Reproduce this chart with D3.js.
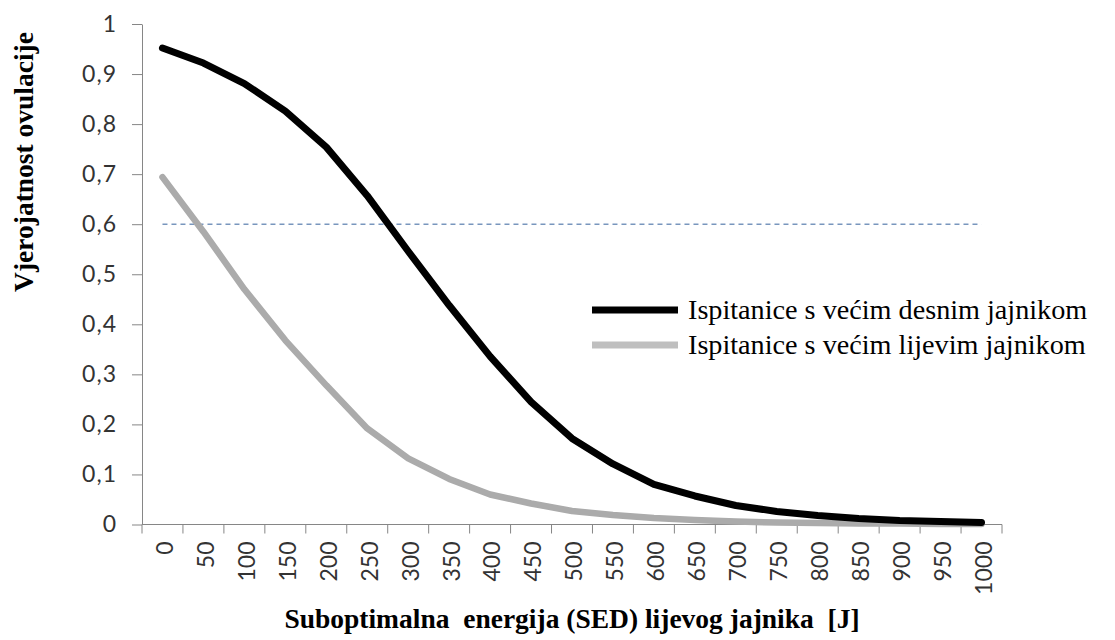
<!DOCTYPE html>
<html>
<head>
<meta charset="utf-8">
<script src="https://cdn.jsdelivr.net/npm/d3@7"></script>
<style>
  body { margin: 0; background: #fff; }
  svg text { white-space: pre; }
</style>
</head>
<body>
<div id="chart"></div>
<script>
// categories on the x axis (SED, J)
const categories = ["0", "50", "100", "150", "200", "250", "300", "350", "400", "450", "500",
    "550", "600", "650", "700", "750", "800", "850", "900", "950", "1000"];

// right ovary larger
const rightValues = [0.952, 0.922, 0.881, 0.826, 0.754, 0.657, 0.546, 0.438, 0.336, 0.245, 0.172,
    0.121, 0.080, 0.057, 0.038, 0.026, 0.018, 0.012, 0.008, 0.006, 0.004];

// left ovary larger
const leftValues = [0.694, 0.585, 0.470, 0.368, 0.278, 0.192, 0.132, 0.091, 0.060, 0.042, 0.027,
    0.019, 0.013, 0.009, 0.006, 0.004, 0.003, 0.002, 0.002, 0.001, 0.001];

// threshold line
const thresholdValue = 0.6;

const yTicks = [0, 0.1, 0.2, 0.3, 0.4, 0.5, 0.6, 0.7, 0.8, 0.9, 1];
const yTickLabels = ["0", "0,1", "0,2", "0,3", "0,4", "0,5", "0,6", "0,7", "0,8", "0,9", "1"];

const seriesNames = ["Ispitanice s većim desnim jajnikom", "Ispitanice s većim lijevim jajnikom"];

const width = 1115, height = 640;
const plotLeft = 142, plotRight = 1002, plotTop = 24, plotBottom = 524.5;

const svg = d3.select("#chart").append("svg")
    .attr("width", width)
    .attr("height", height);

const x = d3.scaleBand().domain(categories).range([plotLeft, plotRight]).padding(0);
const y = d3.scaleLinear().domain([0, 1]).range([plotBottom, plotTop]);
const cx = c => x(c) + x.bandwidth() / 2;

const axisColor = "#868686";
const labelFont = "Lato, 'Open Sans', sans-serif";
const serif = "'Liberation Serif', 'Times New Roman', serif";

// -----------------------------
// Y AXIS
// -----------------------------
const yAxis = svg.append("g")
    .attr("transform", `translate(${plotLeft},0)`)
    .call(d3.axisLeft(y)
        .tickValues(yTicks)
        .tickFormat((d, i) => yTickLabels[i])
        .tickSize(10)
        .tickSizeOuter(0)
        .tickPadding(15));
yAxis.select(".domain").attr("stroke", axisColor);
yAxis.selectAll(".tick line").attr("stroke", axisColor);
yAxis.selectAll(".tick text")
    .attr("fill", "#333")
    .style("font-family", labelFont)
    .style("font-size", "23px")
    .style("letter-spacing", "1px");

// -----------------------------
// X AXIS (ticks between categories)
// -----------------------------
const xAxis = svg.append("g");
xAxis.append("line")
    .attr("x1", plotLeft).attr("x2", plotRight)
    .attr("y1", plotBottom).attr("y2", plotBottom)
    .attr("stroke", axisColor);

const boundaries = categories.map(c => x(c)).concat([x.range()[1]]);
xAxis.selectAll("line.tick")
    .data(boundaries)
    .enter().append("line")
    .attr("class", "tick")
    .attr("x1", d => d).attr("x2", d => d)
    .attr("y1", plotBottom).attr("y2", plotBottom + 9)
    .attr("stroke", axisColor);

xAxis.selectAll("text.cat")
    .data(categories)
    .enter().append("text")
    .attr("class", "cat")
    .attr("transform", d => `translate(${cx(d)},${plotBottom + 17}) rotate(-90)`)
    .attr("text-anchor", "end")
    .attr("dy", "0.45em")
    .attr("fill", "#333")
    .style("font-family", labelFont)
    .style("font-size", "23px")
    .text(d => d);

// -----------------------------
// AXIS TITLES
// -----------------------------
svg.append("text")
    .attr("transform", `translate(33,162) rotate(-90)`)
    .attr("text-anchor", "middle")
    .style("font-family", serif)
    .style("font-weight", "bold")
    .style("font-size", "27.5px")
    .text("Vjerojatnost ovulacije");

svg.append("text")
    .attr("x", 572)
    .attr("y", 628)
    .attr("text-anchor", "middle")
    .style("font-family", serif)
    .style("font-weight", "bold")
    .style("font-size", "27.5px")
    .text("Suboptimalna  energija (SED) lijevog jajnika  [J]");

// -----------------------------
// LINES
// -----------------------------
const line = d3.line()
    .x((d, i) => cx(categories[i]))
    .y(d => y(d));

svg.append("path")
    .datum(categories.map(() => thresholdValue))
    .attr("d", line)
    .attr("fill", "none")
    .attr("stroke", "#7896bd")
    .attr("stroke-width", 1.6)
    .attr("stroke-dasharray", "5,4");

svg.append("path")
    .datum(leftValues)
    .attr("d", line)
    .attr("fill", "none")
    .attr("stroke", "#ababab")
    .attr("stroke-width", 6.5)
    .attr("stroke-linecap", "round")
    .attr("stroke-linejoin", "round");

svg.append("path")
    .datum(rightValues)
    .attr("d", line)
    .attr("fill", "none")
    .attr("stroke", "#000")
    .attr("stroke-width", 7)
    .attr("stroke-linecap", "round")
    .attr("stroke-linejoin", "round");

// -----------------------------
// LEGEND
// -----------------------------
const legendColors = ["#000", "#bfbfbf"];
const legend = svg.append("g").attr("transform", "translate(592,310)");
const item = legend.selectAll("g")
    .data(seriesNames)
    .enter().append("g")
    .attr("transform", (d, i) => `translate(0,${i * 35})`);
item.append("line")
    .attr("x1", 0).attr("x2", 86)
    .attr("stroke", (d, i) => legendColors[i])
    .attr("stroke-width", 7);
item.append("text")
    .attr("x", 96)
    .attr("dy", "0.33em")
    .style("font-family", serif)
    .style("font-size", "28.2px")
    .text(d => d);
</script>
</body>
</html>
